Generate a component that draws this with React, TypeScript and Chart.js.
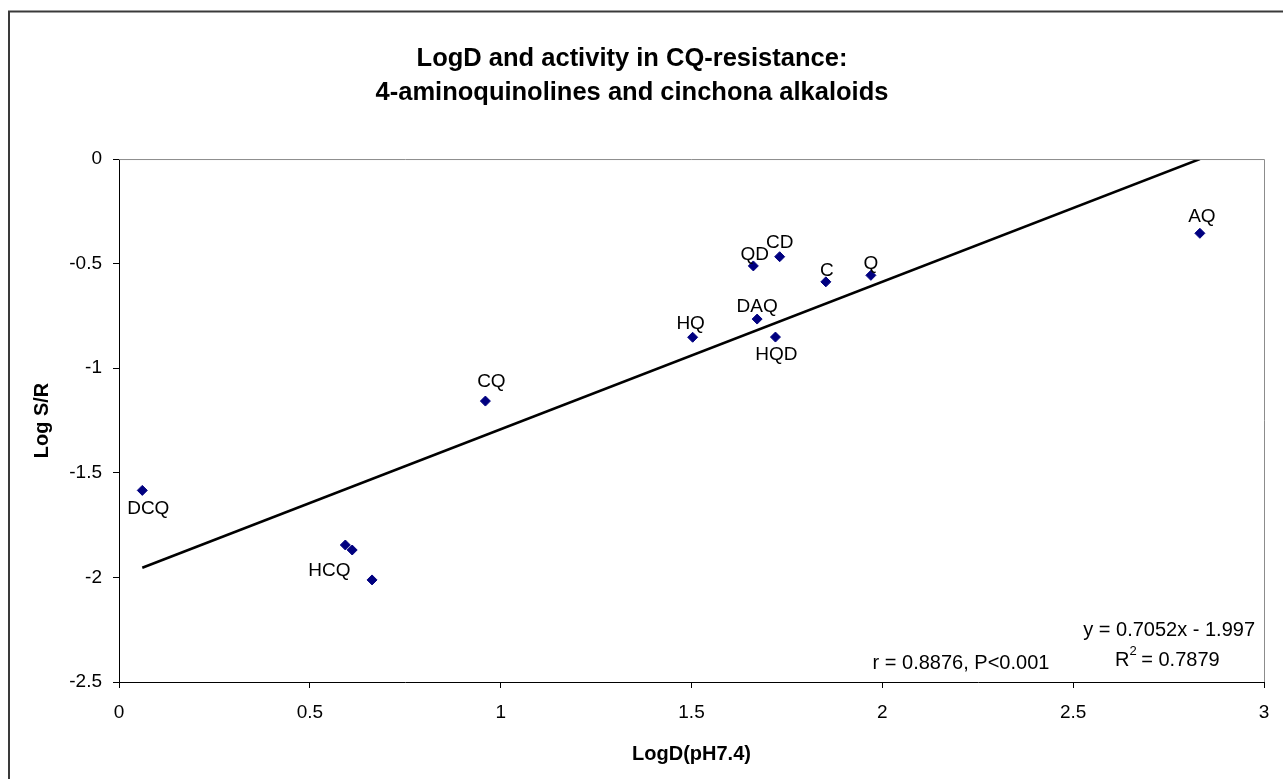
import { useEffect, useRef } from "react";
import { Chart, registerables } from "chart.js";

Chart.register(...registerables);

// ---- data ----
const compoundNames = ["DCQ", "HCQ", "", "", "CQ", "HQ", "DAQ", "HQD", "QD", "CD", "C", "Q", "AQ"];
const logDValues = [0.061, 0.593, 0.611, 0.663, 0.96, 1.503, 1.672, 1.72, 1.662, 1.731, 1.852, 1.97, 2.832];
const logSRValues = [-1.584, -1.845, -1.869, -2.012, -1.157, -0.852, -0.765, -0.851, -0.511, -0.467, -0.587, -0.556, -0.355];
const xTickValues = [0, 0.5, 1, 1.5, 2, 2.5, 3];
const yTickValues = [-2.5, -2, -1.5, -1, -0.5, 0];
const trendSlope = 0.7052;
const trendIntercept = -1.997;
const titleLines = ["LogD and activity in CQ-resistance:", "4-aminoquinolines and cinchona alkaloids"];
const xAxisTitle = "LogD(pH7.4)";
const yAxisTitle = "Log S/R";
const equationText = "y = 0.7052x - 1.997";
const r2Value = "0.7879";
const correlationText = "r = 0.8876, P<0.001";

// ---- label placement (pixel offsets of each name from its point) ----
const labelOffsets: [number, number][] = [
  [6, 17], [-16, 25], [0, 0], [0, 0], [6, -20], [-2, -14], [0, -13],
  [1, 17], [1.5, -12], [0, -15], [1, -12], [0, -13], [2, -18],
];

const FONT = "'Liberation Sans', Arial, sans-serif";

const trendX = [Math.min(...logDValues), Math.max(...logDValues)];
const trendPoints = trendX.map((x) => ({ x, y: trendSlope * x + trendIntercept }));

const decorPlugin = {
  id: "decor",
  afterDraw(chart: any) {
    const { ctx, chartArea } = chart;
    const xs = chart.scales.x;
    const ys = chart.scales.y;
    ctx.save();
    // outer frame
    ctx.strokeStyle = "#3a3a3a";
    ctx.lineWidth = 2;
    ctx.beginPath();
    ctx.moveTo(9, 779);
    ctx.lineTo(9, 11.5);
    ctx.lineTo(1283, 11.5);
    ctx.stroke();
    // plot frame top/right (gray)
    ctx.strokeStyle = "#8c8c8c";
    ctx.lineWidth = 1;
    ctx.beginPath();
    ctx.moveTo(chartArea.left, chartArea.top + 0.5);
    ctx.lineTo(chartArea.right + 0.5, chartArea.top + 0.5);
    ctx.lineTo(chartArea.right + 0.5, chartArea.bottom);
    ctx.stroke();
    // point labels
    ctx.fillStyle = "#000";
    ctx.font = `19px ${FONT}`;
    ctx.textAlign = "center";
    ctx.textBaseline = "middle";
    compoundNames.forEach((name, i) => {
      if (!name) return;
      const px = xs.getPixelForValue(logDValues[i]);
      const py = ys.getPixelForValue(logSRValues[i]);
      const [dx, dy] = labelOffsets[i];
      ctx.fillText(name, px + dx, py + dy + 1);
    });
    // annotations
    ctx.font = `20px ${FONT}`;
    ctx.textAlign = "right";
    ctx.fillText(equationText, chartArea.right - 9, 630);
    ctx.textAlign = "left";
    const rx = 1115;
    ctx.fillText("R", rx, 660);
    const rw = ctx.measureText("R").width;
    ctx.font = `13px ${FONT}`;
    ctx.fillText("2", rx + rw, 651);
    const sw = ctx.measureText("2").width;
    ctx.font = `20px ${FONT}`;
    ctx.fillText(" = " + r2Value, rx + rw + sw - 1, 660);
    ctx.textAlign = "center";
    ctx.fillText(correlationText, 961, 663);
    ctx.restore();
  },
};

export default function App() {
  const canvasRef = useRef<HTMLCanvasElement | null>(null);

  useEffect(() => {
    const canvas = canvasRef.current;
    if (!canvas) return;
    const chart = new Chart(canvas, {
      type: "scatter",
      data: {
        datasets: [
          {
            label: "data",
            data: logDValues.map((x, i) => ({ x, y: logSRValues[i] })),
            pointStyle: "rectRot",
            pointRadius: 5,
            backgroundColor: "#000080",
            borderColor: "#000080",
            borderWidth: 1,
          },
          {
            label: "trend",
            data: trendPoints,
            showLine: true,
            pointRadius: 0,
            borderColor: "#000",
            borderWidth: 2.5,
            fill: false,
          } as any,
        ],
      },
      options: {
        responsive: false,
        animation: false,
        devicePixelRatio: 1,
        layout: { padding: { left: 0, right: 19, top: 0, bottom: 0 } },
        plugins: {
          legend: { display: false },
          tooltip: { enabled: false },
          title: {
            display: true,
            text: titleLines,
            color: "#000",
            font: { family: FONT, size: 25.5, weight: "bold", lineHeight: 1.34 },
            padding: { top: 42, bottom: 48.7 },
          },
        },
        scales: {
          x: {
            type: "linear",
            min: 0,
            max: 3,
            afterBuildTicks: (scale: any) => {
              scale.ticks = xTickValues.map((v) => ({ value: v }));
            },
            afterFit: (scale: any) => {
              scale.height = 97;
            },
            ticks: {
              color: "#000",
              font: { family: FONT, size: 19 },
              padding: 13,
              maxRotation: 0,
              callback: (v: any) => String(v),
            },
            grid: { display: true, drawOnChartArea: false, drawTicks: true, tickLength: 6, color: "#000" },
            border: { display: true, color: "#000", width: 1 },
            title: {
              display: true,
              text: xAxisTitle,
              color: "#000",
              font: { family: FONT, size: 20, weight: "bold" },
              padding: { top: 0, bottom: 13 },
            },
          },
          y: {
            type: "linear",
            min: -2.5,
            max: 0,
            afterBuildTicks: (scale: any) => {
              scale.ticks = yTickValues.map((v) => ({ value: v }));
            },
            afterFit: (scale: any) => {
              scale.width = 119;
            },
            ticks: {
              color: "#000",
              font: { family: FONT, size: 19 },
              padding: 11,
              callback: (v: any) => String(v),
            },
            grid: { display: true, drawOnChartArea: false, drawTicks: true, tickLength: 6, color: "#000" },
            border: { display: true, color: "#000", width: 1 },
            title: {
              display: true,
              text: yAxisTitle,
              color: "#000",
              font: { family: FONT, size: 20, weight: "bold" },
              padding: { top: 30, bottom: 0 },
            },
          },
        },
      },
      plugins: [decorPlugin],
    });
    return () => chart.destroy();
  }, []);

  return (
    <canvas
      ref={canvasRef}
      width={1283}
      height={779}
      style={{ position: "fixed", left: 0, top: 0, width: 1283, height: 779, background: "#fff" }}
    />
  );
}
